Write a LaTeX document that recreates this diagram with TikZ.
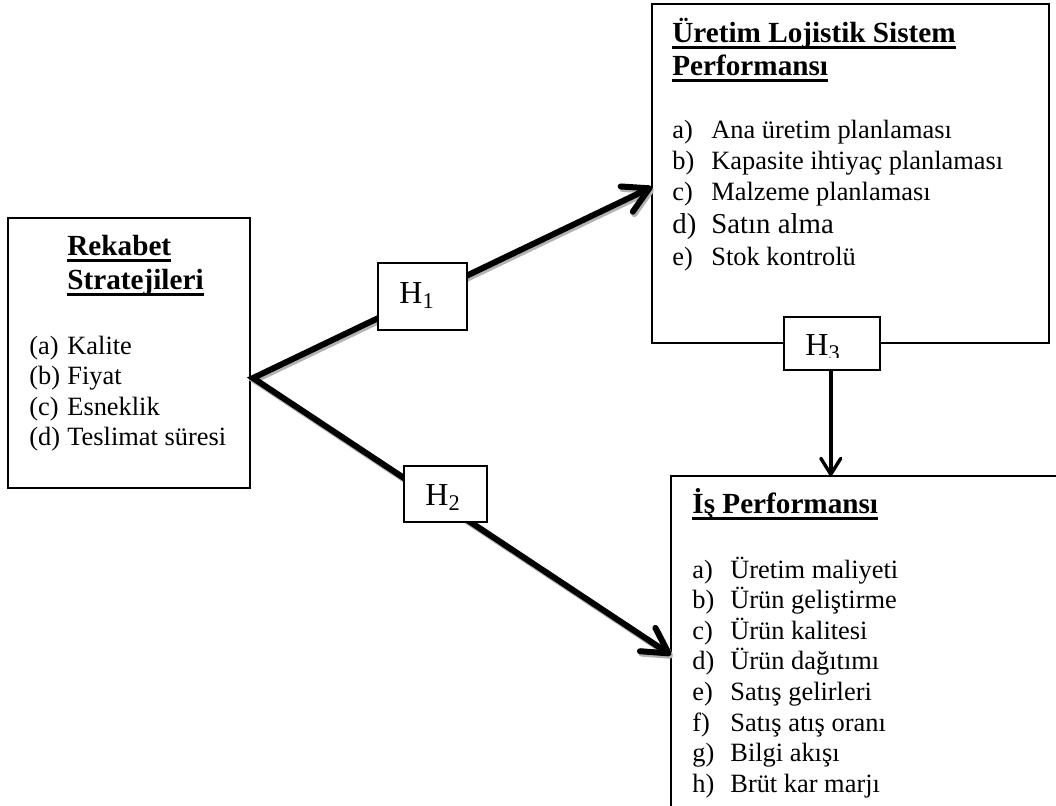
\documentclass[tikz,border=0pt]{standalone}
\usepackage{fontspec}
\setmainfont{Liberation Serif}
\usetikzlibrary{arrows.meta,calc}
\newcommand\myul[1]{\setbox0\hbox{#1}\rlap{\rule[-3.3pt]{\wd0}{1.1pt}}\box0}
\begin{document}
\begin{tikzpicture}[x=0.5pt,y=-0.5pt,
 bigbox/.style={draw,line width=0.9pt,inner sep=0pt,outer sep=0pt,anchor=north west},
 hbox/.style={draw,fill=white,line width=0.6pt,inner sep=0pt,outer sep=0pt,anchor=north west},
 body/.style={anchor=base west,inner sep=0pt,font=\fontsize{13.2}{15}\selectfont},
 bodybig/.style={anchor=base west,inner sep=0pt,font=\fontsize{14.4}{16}\selectfont},
 ttl/.style={anchor=base west,inner sep=0pt,font=\fontsize{14.6}{17}\selectfont\bfseries},
 hlab/.style={anchor=base west,inner sep=0pt,font=\fontsize{16}{18}\selectfont},
 tharrow/.style={line width=3pt,line join=miter,{Straight Barb[round,length=12.5pt,width=14pt]}-{Straight Barb[round,length=12.5pt,width=14pt]}},
 tnarrow/.style={line width=1.7pt,-{Straight Barb[round,length=8pt,width=10pt]}},
]
\clip (0,0) rectangle (1056,805);
\fill[white] (0,0) rectangle (1056,805);

% boxes
\node[bigbox,minimum width=121pt,minimum height=135pt] (rs) at (8,218) {};
\node[bigbox,minimum width=198.5pt,minimum height=169.5pt] (ul) at (652,4) {};
\node[bigbox,minimum width=205pt,minimum height=175pt] (ip) at (671,476) {};

% connectors
\coordinate (j) at ([xshift=1.5pt,yshift=-80pt]rs.north east);
\coordinate (t1) at ([yshift=-91.5pt]ul.north west);
\coordinate (t2) at ([yshift=-89.5pt]ip.north west);
\draw[tharrow,draw=black!30,transform canvas={xshift=0.8pt,yshift=-1.2pt}] (t1) -- (j) -- (t2);
\draw[tharrow] (t1) -- (j) -- (t2);

% hypothesis boxes
\node[hbox,minimum width=44.5pt,minimum height=33.5pt] (h1) at (378,263) {};
\node[hbox,minimum width=41.5pt,minimum height=28pt] (h2) at (404,466) {};
\node[hbox,minimum width=48pt,minimum height=26.5pt] (h3) at (784,317) {};
\node[hlab] (h1t) at (399,303) {H\textsubscript{1}};
\node[hlab] (h2t) at (425,505) {H\textsubscript{2}};
\begin{scope}
\clip (784,317) rectangle (880,357.5);
\node[hlab] (h3t) at (805,355) {H\textsubscript{3}};
\end{scope}
\draw[tnarrow] ([xshift=-0.6pt]h3.south) -- ([xshift=-0.6pt]h3.south |- ip.north);

% left box text
\node[ttl] (rs-t1) at (67,255) {\myul{Rekabet}};
\node[ttl] (rs-t2) at (67,289) {\myul{Stratejileri}};
\foreach \l/\t [count=\i] in {a/Kalite,b/Fiyat,c/Esneklik,d/Teslimat süresi}{
  \node[body] (rs-\i) at (29,{354+30.5*(\i-1)}) {\makebox[19pt][l]{(\l)}\t};
}

% top right box text
\node[ttl] (ul-t1) at (672,42) {\myul{Üretim Lojistik Sistem}};
\node[ttl] (ul-t2) at (672,75) {\myul{Performansı}};
\node[body] (ul-1) at (672,138) {\makebox[19.5pt][l]{a)}Ana üretim planlaması};
\node[body] (ul-2) at (672,169.5) {\makebox[19.5pt][l]{b)}Kapasite ihtiyaç planlaması};
\node[body] (ul-3) at (672,200.5) {\makebox[19.5pt][l]{c)}Malzeme planlaması};
\node[bodybig] (ul-4) at (672,233) {\makebox[19.5pt][l]{d)}Satın alma};
\node[body] (ul-5) at (672,265) {\makebox[19.5pt][l]{e)}Stok kontrolü};

% bottom right box text
\node[ttl] (ip-t) at (692,513) {\myul{İş Performansı}};
\foreach \l/\t [count=\i] in {a/Üretim maliyeti,b/Ürün geliştirme,c/Ürün kalitesi,d/Ürün dağıtımı,e/Satış gelirleri,f/Satış atış oranı,g/Bilgi akışı,h/Brüt kar marjı}{
  \node[body] (ip-\i) at (692,{578+30.6*(\i-1)}) {\makebox[19pt][l]{\l)}\t};
}
\end{tikzpicture}
\end{document}
